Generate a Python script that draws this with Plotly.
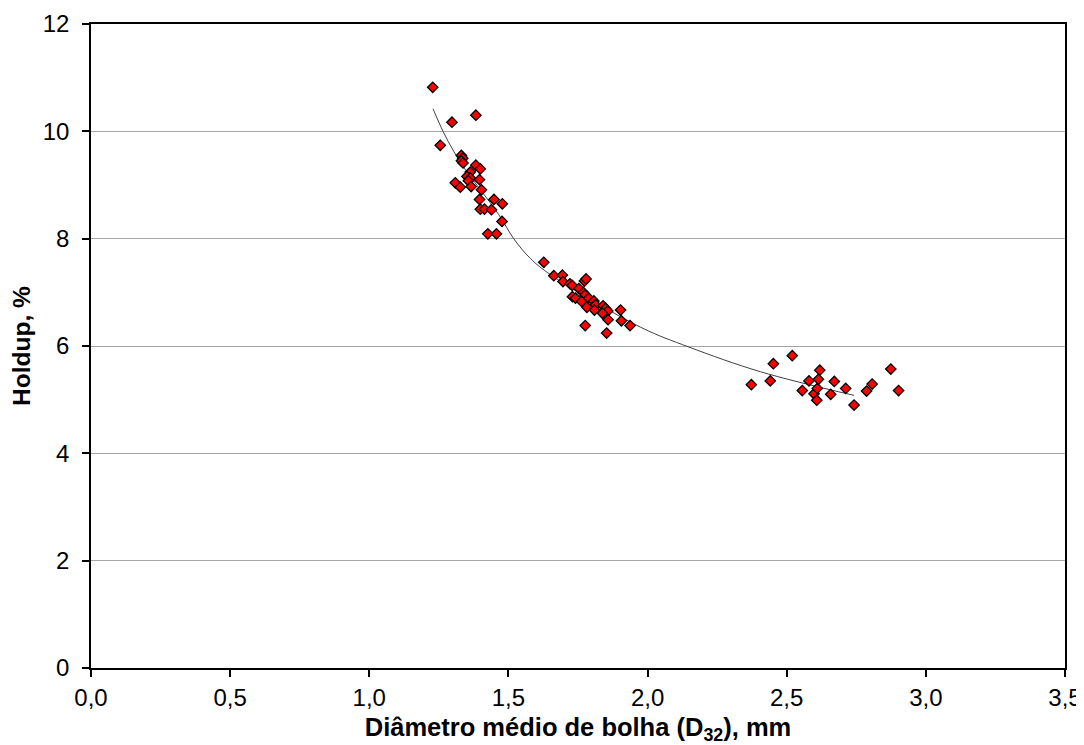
import plotly.graph_objects as go

# Experimental data: bubble diameter D32 (mm) vs holdup (%)
d32 = [1.228, 1.297, 1.383, 1.255, 1.331, 1.336, 1.331, 1.337, 1.383, 1.399,
       1.363, 1.351, 1.363, 1.396, 1.356, 1.366, 1.309, 1.327, 1.403, 1.396,
       1.448, 1.478, 1.399, 1.414, 1.439, 1.477, 1.426, 1.457,
       1.627, 1.663, 1.694, 1.696, 1.721, 1.729, 1.773, 1.779, 1.753, 1.769,
       1.775, 1.730, 1.741, 1.763, 1.789, 1.807, 1.782, 1.813, 1.809, 1.840,
       1.849, 1.857, 1.838, 1.903, 1.858, 1.906, 1.937, 1.776, 1.853,
       2.373, 2.441, 2.452, 2.520, 2.556, 2.580, 2.598, 2.610, 2.614, 2.619,
       2.608, 2.658, 2.671, 2.712, 2.742, 2.787, 2.807, 2.874, 2.902]
holdup = [10.82, 10.17, 10.30, 9.74, 9.55, 9.50, 9.45, 9.41, 9.37, 9.30,
          9.24, 9.16, 9.13, 9.10, 9.08, 8.97, 9.04, 8.96, 8.91, 8.73,
          8.73, 8.65, 8.55, 8.55, 8.54, 8.32, 8.09, 8.09,
          7.56, 7.31, 7.32, 7.20, 7.16, 7.13, 7.21, 7.25, 7.07, 7.00,
          6.95, 6.92, 6.89, 6.83, 6.89, 6.84, 6.72, 6.77, 6.67, 6.75,
          6.70, 6.65, 6.61, 6.67, 6.49, 6.47, 6.38, 6.38, 6.24,
          5.28, 5.35, 5.67, 5.82, 5.17, 5.35, 5.11, 5.21, 5.38, 5.55,
          4.99, 5.10, 5.34, 5.21, 4.90, 5.16, 5.29, 5.57, 5.17]

# Trend line
trend_x = [1.229, 1.265, 1.303, 1.345, 1.465, 1.519, 1.579, 1.651, 1.975, 2.149, 2.406, 2.742]
trend_y = [10.42, 10.00, 9.63, 9.29, 8.45, 8.00, 7.63, 7.33, 6.35, 5.98, 5.52, 5.08]

x_ticks = [0.0, 0.5, 1.0, 1.5, 2.0, 2.5, 3.0, 3.5]
x_tick_text = ["0,0", "0,5", "1,0", "1,5", "2,0", "2,5", "3,0", "3,5"]
y_ticks = [0, 2, 4, 6, 8, 10, 12]

fig = go.Figure()
fig.add_trace(go.Scatter(
    x=trend_x, y=trend_y, mode="lines",
    line=dict(color="#404040", width=1, shape="spline"),
    hoverinfo="skip", showlegend=False))
fig.add_trace(go.Scatter(
    x=d32, y=holdup, mode="markers",
    marker=dict(symbol="diamond", size=8, color="#ff0000",
                line=dict(color="#000000", width=1.3)),
    showlegend=False))

font_family = "Liberation Sans, Arial, sans-serif"
# the page body adds an 8px margin, so the figure is sized/margined to compensate
fig.update_layout(
    width=1076, height=737,
    margin=dict(l=83, r=19, t=16, b=77),
    paper_bgcolor="white", plot_bgcolor="white",
    font=dict(family=font_family, size=24, color="black"),
    xaxis=dict(
        range=[0, 3.5], tickvals=x_ticks, ticktext=x_tick_text,
        showgrid=False, zeroline=False, automargin=False,
        showline=True, linecolor="black", linewidth=1.5, mirror=True,
        ticks="outside", ticklen=7, tickcolor="black", tickwidth=1.5,
        tickfont=dict(size=24),
        title=dict(text="<b>Diâmetro médio de bolha (D<sub>32</sub>), mm</b>",
                   font=dict(size=25.5), standoff=10),
    ),
    yaxis=dict(
        range=[0, 12], tickvals=y_ticks,
        showgrid=True, gridcolor="#a6a6a6", gridwidth=1,
        zeroline=False, automargin=False,
        showline=True, linecolor="black", linewidth=1.5, mirror=True,
        ticks="outside", ticklen=7, tickcolor="black", tickwidth=1.5,
        tickfont=dict(size=24), ticklabelstandoff=8,
        title=dict(text="<b>Holdup, %</b>", font=dict(size=24.5), standoff=5),
    ),
)

fig.write_html("out.html")
